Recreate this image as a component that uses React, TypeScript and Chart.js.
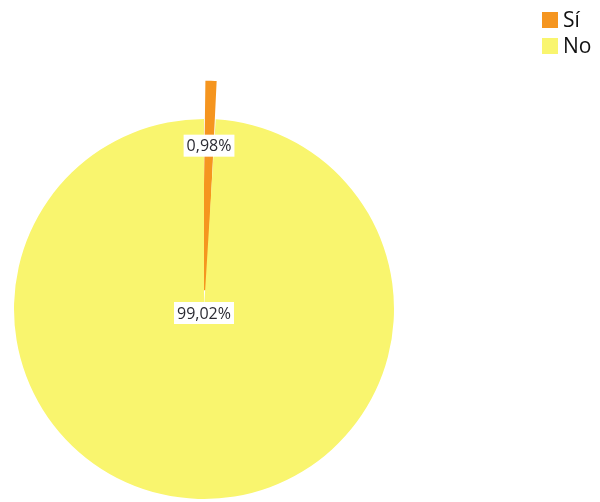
import React, { useEffect, useRef } from "react";
import { Chart, registerables } from "chart.js";

Chart.register(...registerables);

const categories = ["Sí", "No"];
const values = [0.98, 99.02];
const valueLabels = ["0,98%", "99,02%"];
const colors = ["#F5951F", "#F9F56E"];

const legendPlugin = {
  id: "customLegend",
  afterDraw(chart: any) {
    const ctx = chart.ctx;
    const ds = chart.data.datasets[0];
    ctx.save();
    ctx.font = "21px 'Open Sans', 'Noto Sans', sans-serif";
    ctx.textBaseline = "middle";
    ctx.textAlign = "left";
    (chart.data.labels as string[]).forEach((lab, i) => {
      const y = 20 + i * 26;
      ctx.fillStyle = ds.backgroundColor[i];
      ctx.fillRect(542, y - 8, 16, 16);
      ctx.fillStyle = "#111";
      ctx.fillText(lab, 563, y + 1);
    });
    ctx.restore();
  },
};

const labelPlugin = {
  id: "sliceLabels",
  afterDatasetsDraw(chart: any) {
    const ctx = chart.ctx;
    const meta = chart.getDatasetMeta(0);
    const total = values.reduce((a, b) => a + b, 0);
    ctx.save();
    ctx.font = "16px 'Open Sans', 'Noto Sans', sans-serif";
    ctx.textBaseline = "middle";
    ctx.textAlign = "center";
    meta.data.forEach((arc: any, i: number) => {
      const p = arc.getProps(["x", "y", "startAngle", "endAngle", "outerRadius"], true);
      const mid = (p.startAngle + p.endAngle) / 2;
      let x: number, y: number;
      if (values[i] / total > 0.5) {
        x = p.x;
        y = p.y + 4;
      } else {
        const d = p.outerRadius * 0.86;
        x = p.x + Math.cos(mid) * d;
        y = p.y + Math.sin(mid) * d;
      }
      const t = valueLabels[i];
      const w = ctx.measureText(t).width + 6;
      ctx.fillStyle = "#ffffff";
      ctx.fillRect(x - w / 2, y - 11, w, 22);
      ctx.fillStyle = "#2b2b33";
      ctx.fillText(t, x, y + 1);
    });
    ctx.restore();
  },
};

export default function App() {
  const ref = useRef<HTMLCanvasElement>(null);
  useEffect(() => {
    const chart = new Chart(ref.current!, {
      type: "pie",
      data: {
        labels: categories,
        datasets: [
          {
            data: values,
            backgroundColor: colors,
            borderColor: colors,
            borderWidth: [4, 0],
            borderJoinStyle: "miter",
            offset: [75, 0],
          },
        ],
      },
      options: {
        animation: false,
        responsive: false,
        radius: 190,
        layout: { padding: { left: 0, right: 192, top: 116, bottom: 0 } },
        plugins: { legend: { display: false }, tooltip: { enabled: false } },
      },
      plugins: [legendPlugin, labelPlugin],
    });
    return () => chart.destroy();
  }, []);
  return (
    <div style={{ position: "fixed", left: 0, top: 0, width: 600, height: 502, background: "#fff" }}>
      <canvas ref={ref} width={600} height={502} />
    </div>
  );
}
